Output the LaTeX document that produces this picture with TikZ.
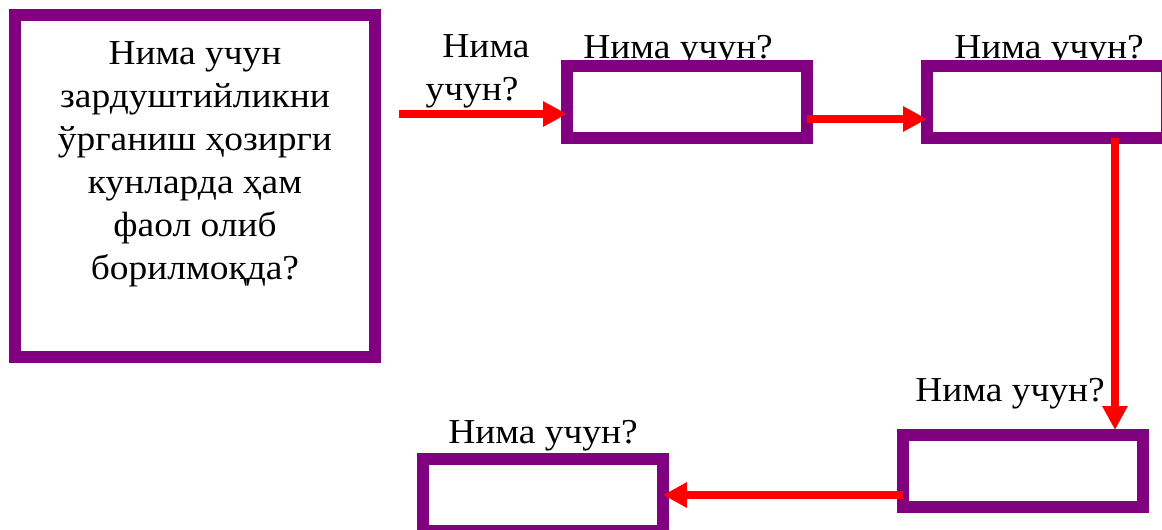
\documentclass[tikz,border=0pt]{standalone}
\usepackage{fontspec}
\setmainfont{Liberation Serif}[FakeStretch=1.07]
\usetikzlibrary{arrows.meta,calc}
\definecolor{boxpurple}{HTML}{800080}
\definecolor{arrred}{HTML}{FF0000}
\tikzset{
  qbox/.style={draw=boxpurple, fill=white, line width=12pt, rectangle, inner sep=0pt, outer sep=0pt},
  qlabel/.style={inner sep=0pt, outer sep=0pt, font=\fontsize{35}{43}\selectfont, anchor=base},
  arr/.style={draw=arrred, line width=8pt, -{Triangle[length=24pt,width=24pt]}},
}
\begin{document}
\begin{tikzpicture}[x=1pt,y=-1pt]
\useasboundingbox (0,0) rectangle (1162,530);
\clip (0,0) rectangle (1162,530);
% labels (drawn first: the boxes cover their lower parts)
\node[qlabel] (l1) at (678,58) {Нима учун?};
\node[qlabel] (l2) at (1049,58) {Нима учун?};
\node[qlabel] (l3) at (1010,401) {Нима учун?};
\node[qlabel] (l4) at (543,443) {Нима учун?};
\node[qlabel, anchor=north, align=center] (l0) at (472,35) {\hspace*{28pt}Нима\\учун?};
% boxes
\node[qbox, minimum width=360pt, minimum height=342pt] (big) at (195,186) {};
\node[qlabel, anchor=north, align=center] (bigtext) at (195,42)
  {Нима учун\\зардуштийликни\\ўрганиш ҳозирги\\кунларда ҳам\\фаол олиб\\борилмоқда?};
\node[qbox, minimum width=240pt, minimum height=72pt] (b1) at (687,102) {};
\node[qbox, minimum width=240pt, minimum height=72pt] (b2) at (1047,102) {};
\node[qbox, minimum width=240pt, minimum height=72pt] (b3) at (1023,471) {};
\node[qbox, minimum width=240pt, minimum height=72pt] (b4) at (543,495) {};
% connectors
\coordinate (s0) at (399,114);
\draw[arr] (s0) -- (s0 -| b1.west);
\draw[arr] ([yshift=-17pt]b1.east) -- ([yshift=-17pt]b2.west);
\coordinate (v) at (1115,0);
\draw[arr] (v |- b2.south) -- ([yshift=5pt]v |- b3.north);
\draw[arr] ([yshift=-24pt]b3.west) -- (b4.east);
\end{tikzpicture}
\end{document}
